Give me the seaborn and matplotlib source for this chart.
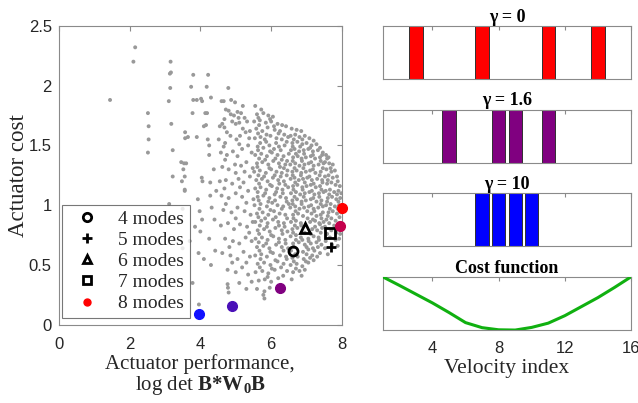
from matplotlib import pyplot as plt
from matplotlib.lines import Line2D
import pandas as pd
import numpy as np
import seaborn as sb

# gray cloud: (log det performance, actuator cost) of every candidate set
cloud_left = [(1.45, 1.88), (2.11, 2.20), (2.16, 2.32), (2.52, 1.77), (2.54, 1.66), (2.54, 1.55),
              (2.52, 1.44), (3.16, 2.20), (3.14, 2.10), (3.17, 2.11), (3.15, 1.98), (3.11, 1.87),
              (3.18, 1.68), (3.22, 1.46), (3.22, 1.24), (3.12, 1.01), (3.50, 0.97), (3.46, 1.36),
              (3.52, 1.30), (3.48, 1.20), (3.56, 1.12), (3.50, 0.64), (3.38, 0.85)]
cloud_4 = [(3.57, 1.61), (3.57, 1.56), (3.90, 1.57), (3.54, 1.35), (3.60, 1.35), (3.56, 1.24),
           (3.56, 1.13), (4.04, 1.23), (4.06, 1.20), (4.28, 1.19), (4.28, 1.08), (4.25, 1.42),
           (4.25, 1.50), (4.21, 1.55), (4.10, 1.66), (4.16, 1.67), (4.14, 1.77), (4.19, 1.77),
           (3.78, 1.77), (3.80, 1.88), (3.90, 1.88), (4.02, 1.89), (4.05, 1.87), (4.30, 1.90),
           (3.80, 2.09), (4.22, 2.09), (3.74, 1.99), (4.18, 1.99), (3.65, 1.57), (3.93, 1.05),
           (3.98, 0.95), (4.05, 0.88), (3.85, 0.82), (4.00, 0.78), (4.25, 0.72), (4.32, 0.98),
           (4.40, 0.88), (4.38, 1.30), (3.70, 0.70), (3.95, 0.60), (4.10, 0.55), (4.30, 0.50),
           (3.78, 0.35), (3.96, 0.17), (4.42, 0.62), (4.45, 1.12)]
cloud_5 = [(4.79, 1.98), (4.60, 1.87), (4.66, 1.87), (4.87, 1.88), (4.98, 1.86), (4.72, 1.80),
           (4.80, 1.79), (4.86, 1.76), (4.95, 1.75), (5.05, 1.78), (5.20, 1.83), (5.15, 1.77),
           (4.55, 1.66), (4.62, 1.68), (4.68, 1.65), (4.90, 1.70), (5.00, 1.68), (5.10, 1.69),
           (5.25, 1.73), (5.32, 1.70), (4.52, 1.55), (4.70, 1.52), (4.85, 1.58), (5.02, 1.55),
           (5.12, 1.58), (5.28, 1.61), (5.40, 1.62), (4.58, 1.44), (4.75, 1.42), (4.92, 1.45),
           (5.05, 1.41), (5.18, 1.47), (5.35, 1.50), (5.45, 1.44), (4.62, 1.32), (4.80, 1.30),
           (4.98, 1.34), (5.15, 1.33), (5.30, 1.36), (5.48, 1.31), (4.55, 1.20), (4.72, 1.21),
           (4.90, 1.18), (5.08, 1.22), (5.22, 1.19), (5.40, 1.24), (4.60, 1.08), (4.80, 1.06),
           (5.00, 1.10), (5.18, 1.07), (5.35, 1.12), (5.50, 1.05), (4.65, 0.96), (4.88, 0.94),
           (5.05, 0.98), (5.25, 0.95), (5.42, 0.92), (4.58, 0.83), (4.78, 0.85), (4.95, 0.80),
           (5.12, 0.84), (5.32, 0.82), (5.48, 0.86), (4.70, 0.72), (4.92, 0.70), (5.10, 0.68),
           (5.28, 0.73), (5.45, 0.70), (4.62, 0.60), (4.85, 0.58), (5.05, 0.55), (5.22, 0.61),
           (5.40, 0.57), (4.77, 0.46), (5.00, 0.44), (5.18, 0.48), (5.35, 0.42), (4.77, 0.34),
           (4.78, 0.31), (4.80, 0.27), (5.10, 0.35), (5.30, 0.30), (5.45, 0.36),
           (4.68, 1.72), (5.08, 1.73), (4.75, 1.61), (5.20, 1.64), (4.66, 1.49), (5.10, 1.51),
           (5.38, 1.56), (4.70, 1.38), (5.00, 1.27), (5.25, 1.28), (4.68, 1.14), (5.12, 1.15),
           (5.30, 1.02), (4.72, 1.01), (5.00, 0.89), (5.38, 0.77), (4.82, 0.65), (5.30, 0.52),
           (4.90, 0.52)]
cloud_6 = [(5.55, 1.83), (5.72, 1.80), (5.60, 1.76), (5.78, 1.77), (5.92, 1.75), (6.05, 1.74),
           (5.52, 1.70), (5.68, 1.71), (5.85, 1.69), (6.00, 1.70), (6.18, 1.68), (5.58, 1.64),
           (5.75, 1.62), (5.90, 1.65), (6.10, 1.63), (6.25, 1.62), (6.42, 1.66), (5.54, 1.56),
           (5.70, 1.57), (5.82, 1.55), (5.98, 1.58), (6.15, 1.56), (6.30, 1.55), (6.48, 1.57),
           (5.62, 1.49), (5.78, 1.48), (5.95, 1.50), (6.08, 1.47), (6.22, 1.49), (6.38, 1.50),
           (5.55, 1.42), (5.72, 1.43), (5.88, 1.41), (6.02, 1.44), (6.18, 1.42), (6.35, 1.41),
           (6.50, 1.43), (5.60, 1.35), (5.75, 1.36), (5.92, 1.34), (6.06, 1.37), (6.22, 1.35),
           (6.40, 1.34), (5.52, 1.28), (5.68, 1.29), (5.85, 1.27), (6.00, 1.30), (6.15, 1.28),
           (6.30, 1.27), (6.46, 1.29), (5.58, 1.21), (5.74, 1.22), (5.90, 1.20), (6.05, 1.23),
           (6.20, 1.21), (6.36, 1.20), (5.55, 1.14), (5.70, 1.15), (5.86, 1.13), (6.02, 1.16),
           (6.17, 1.14), (6.32, 1.13), (6.48, 1.15), (5.62, 1.07), (5.78, 1.08), (5.95, 1.06),
           (6.10, 1.09), (6.26, 1.07), (6.42, 1.06), (5.53, 1.00), (5.70, 1.01), (5.88, 0.99),
           (6.03, 1.02), (6.18, 1.00), (6.34, 0.99), (6.50, 1.01), (5.60, 0.93), (5.76, 0.94),
           (5.92, 0.92), (6.08, 0.95), (6.24, 0.93), (6.40, 0.92), (5.55, 0.86), (5.72, 0.87),
           (5.90, 0.85), (6.05, 0.88), (6.20, 0.86), (6.36, 0.85), (5.62, 0.79), (5.80, 0.80),
           (5.96, 0.78), (6.12, 0.81), (6.30, 0.79), (6.46, 0.78), (5.56, 0.72), (5.74, 0.73),
           (5.90, 0.71), (6.06, 0.74), (6.22, 0.72), (6.40, 0.71), (5.60, 0.65), (5.78, 0.66),
           (5.95, 0.64), (6.14, 0.67), (6.30, 0.65), (6.48, 0.64), (5.55, 0.58), (5.72, 0.59),
           (5.88, 0.57), (6.05, 0.60), (6.25, 0.58), (6.42, 0.57), (5.62, 0.51), (5.80, 0.52),
           (5.98, 0.50), (6.18, 0.53), (6.35, 0.51), (5.56, 0.44), (5.75, 0.45), (5.92, 0.43),
           (6.10, 0.46), (6.45, 0.45), (5.65, 0.37), (5.82, 0.38), (6.00, 0.36), (6.20, 0.39),
           (5.60, 0.30), (5.81, 0.28), (5.96, 0.31), (5.81, 0.22), (5.78, 0.25)]
cloud_6b = [(5.64, 1.73), (5.97, 1.72), (5.66, 1.67), (6.08, 1.66), (6.31, 1.67), (5.63, 1.60),
            (5.87, 1.59), (6.21, 1.60), (6.37, 1.59), (5.69, 1.52), (5.86, 1.53), (6.14, 1.52),
            (6.44, 1.53), (5.63, 1.46), (5.97, 1.45), (6.27, 1.46), (5.66, 1.39), (5.83, 1.38),
            (6.12, 1.39), (6.30, 1.38), (6.45, 1.37), (5.61, 1.32), (5.95, 1.31), (6.25, 1.32),
            (6.36, 1.31), (5.64, 1.25), (5.80, 1.24), (6.10, 1.25), (6.27, 1.24), (6.44, 1.25),
            (5.66, 1.18), (5.97, 1.17), (6.23, 1.18), (6.40, 1.17), (5.62, 1.11), (5.83, 1.10),
            (6.14, 1.11), (6.33, 1.10), (5.65, 1.04), (5.92, 1.03), (6.11, 1.04), (6.44, 1.03),
            (5.67, 0.97), (5.98, 0.96), (6.30, 0.97), (5.64, 0.90), (5.83, 0.89), (6.13, 0.90),
            (6.45, 0.89), (5.68, 0.83), (5.88, 0.82), (6.22, 0.83), (6.38, 0.82), (5.66, 0.76),
            (6.00, 0.75), (6.32, 0.76), (5.65, 0.69), (5.86, 0.68), (6.22, 0.69), (6.41, 0.68),
            (5.67, 0.62), (5.98, 0.61), (6.35, 0.62), (5.70, 0.55), (6.12, 0.54), (6.44, 0.55),
            (5.68, 0.48), (6.02, 0.47), (6.28, 0.48), (5.90, 0.40), (6.34, 0.41)]
cloud_7 = [(6.58, 1.64), (6.72, 1.63), (6.85, 1.62), (6.55, 1.58), (6.68, 1.59), (6.80, 1.57),
           (6.95, 1.58), (7.08, 1.56), (6.60, 1.52), (6.74, 1.53), (6.88, 1.51), (7.00, 1.52),
           (7.14, 1.50), (7.28, 1.51), (6.56, 1.46), (6.66, 1.47), (6.79, 1.45), (6.92, 1.46),
           (7.05, 1.47), (7.18, 1.45), (7.32, 1.46), (7.46, 1.44), (6.62, 1.40), (6.75, 1.41),
           (6.86, 1.39), (6.98, 1.40), (7.12, 1.41), (7.24, 1.39), (7.38, 1.40), (6.54, 1.34),
           (6.68, 1.35), (6.80, 1.33), (6.94, 1.34), (7.06, 1.35), (7.20, 1.33), (7.34, 1.34),
           (7.48, 1.35), (6.60, 1.28), (6.72, 1.29), (6.85, 1.27), (6.98, 1.28), (7.10, 1.29),
           (7.25, 1.27), (7.40, 1.28), (6.55, 1.22), (6.66, 1.23), (6.78, 1.21), (6.90, 1.22),
           (7.02, 1.23), (7.15, 1.21), (7.30, 1.22), (7.44, 1.21), (6.62, 1.16), (6.74, 1.17),
           (6.88, 1.15), (7.00, 1.16), (7.12, 1.17), (7.26, 1.15), (7.38, 1.16), (6.56, 1.10),
           (6.70, 1.11), (6.82, 1.09), (6.95, 1.10), (7.08, 1.11), (7.22, 1.09), (7.35, 1.10),
           (7.48, 1.11), (6.60, 1.04), (6.73, 1.05), (6.86, 1.03), (6.98, 1.04), (7.12, 1.05),
           (7.28, 1.03), (7.42, 1.04), (6.54, 0.98), (6.68, 0.99), (6.80, 0.97), (6.93, 0.98),
           (7.06, 0.99), (7.20, 0.97), (7.33, 0.98), (7.46, 0.99), (6.62, 0.92), (6.76, 0.93),
           (6.90, 0.91), (7.14, 0.93), (7.28, 0.91), (7.40, 0.92), (6.56, 0.86), (6.70, 0.87),
           (6.84, 0.85), (7.10, 0.86), (7.24, 0.87), (7.36, 0.85), (7.48, 0.86), (6.60, 0.80),
           (6.74, 0.81), (7.16, 0.80), (7.30, 0.79), (7.44, 0.81), (6.55, 0.74), (6.70, 0.75),
           (6.84, 0.73), (7.05, 0.72), (7.20, 0.74), (7.34, 0.73), (6.62, 0.68), (6.78, 0.69),
           (6.95, 0.67), (7.12, 0.68), (7.28, 0.69), (7.42, 0.67), (6.56, 0.62), (6.90, 0.61),
           (7.05, 0.63), (7.22, 0.62), (7.38, 0.60), (6.60, 0.56), (6.75, 0.57), (6.92, 0.55),
           (7.10, 0.56), (7.30, 0.57), (6.55, 0.50), (6.72, 0.51), (6.88, 0.49), (7.05, 0.52),
           (6.62, 0.44), (6.80, 0.45), (6.95, 0.46), (6.58, 0.38)]
cloud_7b = [(6.64, 1.55), (6.88, 1.55), (7.20, 1.54), (6.61, 1.49), (6.82, 1.49), (7.10, 1.48),
            (7.38, 1.48), (6.70, 1.43), (6.93, 1.43), (7.18, 1.42), (7.44, 1.42), (6.61, 1.37),
            (6.87, 1.37), (7.13, 1.36), (7.40, 1.37), (6.66, 1.31), (6.91, 1.31), (7.18, 1.30),
            (7.46, 1.31), (6.61, 1.25), (6.84, 1.25), (7.08, 1.24), (7.37, 1.25), (6.68, 1.19),
            (6.95, 1.19), (7.20, 1.18), (7.45, 1.19), (6.63, 1.13), (6.89, 1.13), (7.15, 1.12),
            (7.42, 1.13), (6.66, 1.07), (6.92, 1.07), (7.19, 1.06), (7.36, 1.07), (6.61, 1.01),
            (6.86, 1.01), (7.13, 1.00), (7.40, 1.01), (6.69, 0.95), (7.02, 0.95), (7.22, 0.95),
            (7.46, 0.94), (6.63, 0.89), (7.03, 0.89), (7.18, 0.88), (7.42, 0.89), (6.67, 0.83),
            (6.85, 0.83), (7.24, 0.82), (7.38, 0.84), (6.62, 0.77), (6.95, 0.77), (7.12, 0.76),
            (7.40, 0.77), (6.70, 0.71), (6.88, 0.71), (7.06, 0.70), (7.35, 0.71), (6.64, 0.65),
            (7.00, 0.65), (7.18, 0.64), (7.32, 0.65), (6.68, 0.59), (7.00, 0.59), (7.16, 0.58),
            (6.64, 0.53), (6.98, 0.53), (7.20, 0.54), (6.70, 0.47), (6.86, 0.41)]
cloud_8 = [(7.55, 1.42), (7.62, 1.40), (7.52, 1.36), (7.64, 1.35), (7.74, 1.34), (7.56, 1.30),
           (7.68, 1.31), (7.80, 1.29), (7.52, 1.24), (7.62, 1.25), (7.74, 1.23), (7.86, 1.24),
           (7.58, 1.18), (7.70, 1.19), (7.82, 1.17), (7.94, 1.16), (7.54, 1.12), (7.66, 1.13),
           (7.78, 1.11), (7.90, 1.12), (7.98, 1.10), (7.60, 1.06), (7.72, 1.07), (7.84, 1.05),
           (7.95, 1.06), (7.55, 1.00), (7.68, 1.01), (7.80, 0.99), (7.92, 1.00), (7.62, 0.94),
           (7.74, 0.95), (7.86, 0.93), (7.97, 0.94), (7.56, 0.88), (7.70, 0.89), (7.82, 0.87),
           (7.93, 0.90), (7.52, 0.82), (7.78, 0.83), (7.90, 0.81), (7.58, 0.76), (7.84, 0.77),
           (7.95, 0.76), (7.54, 0.70), (7.82, 0.71), (7.92, 0.72), (7.52, 0.64), (7.88, 0.66),
           (7.60, 0.59), (7.58, 1.39), (7.70, 1.28), (7.60, 1.21), (7.88, 1.20), (7.64, 1.09),
           (7.86, 1.09), (7.58, 1.03), (7.90, 1.03), (7.66, 0.97), (7.88, 0.97), (7.60, 0.91),
           (7.92, 0.85), (7.64, 0.85), (7.70, 0.79), (7.66, 0.73), (7.72, 0.67)]

# black open markers: best set for each number of modes
mode_labels = ["4 modes", "5 modes", "6 modes", "7 modes"]
mode_perf = [6.63, 7.68, 6.96, 7.66]
mode_cost = [0.62, 0.65, 0.81, 0.77]
mode_markers = ["o", "+", "^", "s"]

# coloured dots: 8-mode sets for increasing cost weight
gamma_perf = [3.97, 4.89, 6.26, 7.95, 8.00]
gamma_cost = [0.09, 0.16, 0.31, 0.83, 0.98]
gamma_colors = ["#1010ff", "#4a10b8", "#800080", "#c4004c", "#ff0000"]

# right column: chosen velocity indices per gamma, and the cost function
velocity = list(range(1, 17))
gamma_titles = ["\u03b3 = 0", "\u03b3 = 1.6", "\u03b3 = 10"]
picks = [[3, 7, 11, 14], [5, 8, 9, 11], [7, 8, 9, 10]]
pick_colors = ["#ff0000", "#800080", "#0000ff"]
cost_fn = [1.0, 0.84, 0.675, 0.51, 0.33, 0.14, 0.045, 0.005, 0.0, 0.05, 0.13, 0.27, 0.44, 0.61, 0.80, 1.0]

cloud = pd.DataFrame(cloud_left + cloud_4 + cloud_5 + cloud_6 + cloud_6b + cloud_7 + cloud_7b + cloud_8,
	columns=["perf", "cost"])

sb.set_style("white")
plt.rcParams["font.family"] = ["Liberation Sans", "DejaVu Sans"]
plt.rcParams["mathtext.fontset"] = "custom"
plt.rcParams["mathtext.rm"] = "Liberation Serif"
plt.rcParams["mathtext.bf"] = "Liberation Serif:bold"
plt.rcParams["mathtext.it"] = "Liberation Serif:italic"

spine_gray = "#8a8a8a"
text_dark = "#262626"
serif = ["Liberation Serif", "DejaVu Serif"]

fig = plt.figure(figsize=(6.38, 4.03), dpi=100)

# left: performance vs cost
ax = fig.add_axes([0.092, 0.194, 0.444, 0.742])
sb.scatterplot(data=cloud, x="perf", y="cost", color="#999999", s=8, edgecolor="none", ax=ax, zorder=2)
for p, c, m in zip(mode_perf, mode_cost, mode_markers):
	ax.plot(p, c, marker=m, color="black", mfc="none", mew=2, ms=7.5 if m == "+" else 6.5, ls="none", zorder=4)
for p, c, col in zip(gamma_perf, gamma_cost, gamma_colors):
	ax.plot(p, c, marker="o", color=col, ms=7, ls="none", zorder=4, clip_on=False)

ax.set_xlim(0, 8)
ax.set_ylim(0, 2.5)
ax.set_xticks([0, 2, 4, 6, 8])
ax.set_yticks([0, 0.5, 1, 1.5, 2, 2.5])
ax.set_yticklabels(["0", "0.5", "1", "1.5", "2", "2.5"])
ax.tick_params(direction="in", top=True, right=True, length=3.5, width=0.8, color=spine_gray,
	labelsize=12, labelcolor=text_dark)
ax.tick_params(axis="x", pad=9)
ax.tick_params(axis="y", pad=5)
for s in ax.spines.values():
	s.set_color(spine_gray)
	s.set_linewidth(0.8)
ax.set_xlabel("Actuator performance,\nlog det $\\mathbf{B{*}W_0B}$", family=serif, fontsize=15,
	color=text_dark, linespacing=1.0, labelpad=1)
ax.set_ylabel("Actuator cost", family=serif, fontsize=16.5, color=text_dark, labelpad=0)

handles = [Line2D([], [], marker=m, color="black", mfc="none", mew=2, ms=7 if m == "+" else 6, ls="none")
	for m in mode_markers]
handles.append(Line2D([], [], marker="o", color="#ff0000", ms=5, ls="none"))
leg = ax.legend(handles, mode_labels + ["8 modes"], loc="lower left", bbox_to_anchor=(0.012, 0.022),
	borderaxespad=0, frameon=True, fancybox=False, prop={"family": serif, "size": 14},
	handlelength=2.0, handletextpad=0.6, labelspacing=0.18, borderpad=0.3)
leg.get_frame().set_edgecolor("#555555")
leg.get_frame().set_linewidth(0.8)

# right column: selected velocities and cost function
bottoms = [0.804, 0.596, 0.389, 0.181]
right_axes = [fig.add_axes([0.600, b, 0.389, 0.132]) for b in bottoms]

for rax, title, pk, col in zip(right_axes[:3], gamma_titles, picks, pick_colors):
	rax.bar(pk, [1] * len(pk), width=0.8, color=col, edgecolor="#303030", linewidth=0.7, zorder=2)
	rax.set_title(title, family=serif, fontsize=13, fontweight="bold", color="black", pad=3)

cax = right_axes[3]
sb.lineplot(x=velocity, y=cost_fn, color="#10b010", linewidth=2.2, ax=cax, zorder=3)
cax.set_title("Cost function", family=serif, fontsize=13, fontweight="bold", color="black", pad=3)

for rax in right_axes:
	rax.set_xlim(1, 16)
	rax.set_ylim(0, 1)
	rax.set_xticks([4, 8, 12, 16])
	rax.set_yticks([])
	rax.tick_params(axis="x", direction="in", top=True, length=3, width=0.8, color=spine_gray,
		labelsize=12, labelcolor=text_dark, pad=8)
	for s in rax.spines.values():
		s.set_color(spine_gray)
		s.set_linewidth(0.8)
	if rax is not cax:
		rax.set_xticklabels([])
cax.set_xlabel("Velocity index", family=serif, fontsize=15.5, color=text_dark, labelpad=2)

plt.savefig("out.png", dpi=100)
plt.close("all")
